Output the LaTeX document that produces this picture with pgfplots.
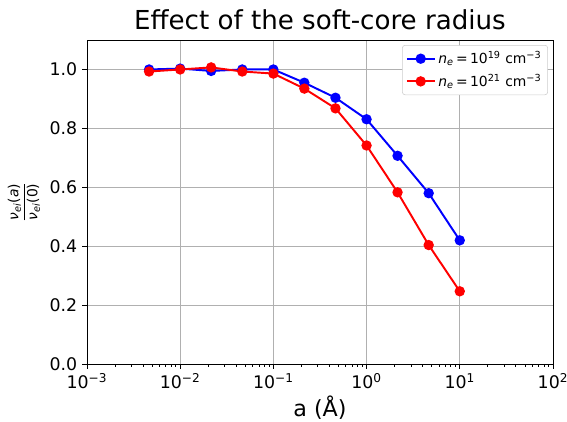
\documentclass[border=0pt]{standalone}
\usepackage{pgfplots}
\pgfplotsset{compat=1.18}
\usepackage{fontspec}
\setmainfont{DejaVu Sans}

\definecolor{gridgray}{HTML}{B0B0B0}
\definecolor{legframe}{HTML}{CCCCCC}
\newcommand\nuei{\textit{ν}\textsubscript{\textit{ei}}}
\newcommand\nelab[1]{\textit{n}\textsubscript{\textit{e}}\,=\,10\textsuperscript{#1} cm\textsuperscript{−3}}

\begin{document}
\begin{tikzpicture}
  \begin{axis}[%
    scale only axis,
    width=335.5pt, height=233.3pt,
    at={(0,0)}, anchor=south west,
    axis line style={line width=0.6pt},
    % x-axis
    xmode=log,
    xmin=1e-3, xmax=1e2,
    xtick={1e-3,1e-2,1e-1,1,1e1,1e2},
    xticklabels={10\textsuperscript{−3},10\textsuperscript{−2},10\textsuperscript{−1},10\textsuperscript{0},10\textsuperscript{1},10\textsuperscript{2}},
    minor xtick={2e-3,3e-3,4e-3,5e-3,6e-3,7e-3,8e-3,9e-3,
                 2e-2,3e-2,4e-2,5e-2,6e-2,7e-2,8e-2,9e-2,
                 0.2,0.3,0.4,0.5,0.6,0.7,0.8,0.9,
                 2,3,4,5,6,7,8,9,
                 20,30,40,50,60,70,80,90},
    xlabel={a (Å)},
    xlabel style={font=\fontsize{16}{18}\selectfont, yshift=2pt},
    % y-axis
    ymin=0, ymax=1.1,
    ytick={0,0.2,0.4,0.6,0.8,1.0},
    yticklabel style={/pgf/number format/.cd, fixed, fixed zerofill, precision=1, assume math mode=true},
    ylabel={$\displaystyle\frac{\mbox{\fontsize{10}{12}\selectfont\nuei(\textit{a})}}{\mbox{\fontsize{10}{12}\selectfont\nuei(0)}}$},
    % ticks and grid
    tick align=outside,
    xtick pos=bottom, ytick pos=left,
    major tick length=3.5pt, minor tick length=2pt,
    every tick/.style={black, line width=0.6pt},
    tick label style={font=\fontsize{12.5}{14}\selectfont},
    xmajorgrids=true, ymajorgrids=true, xminorgrids=false,
    major grid style={gridgray, line width=0.6pt},
    % title
    title={Effect of the soft-core radius},
    title style={font=\fontsize{18.8}{21}\selectfont, yshift=-2pt},
    % legend
    legend cell align=left,
    legend style={at={(1,1)}, anchor=north east, xshift=-3.6pt, yshift=-3.6pt,
      draw=legframe, rounded corners=2pt, font=\fontsize{10}{12}\selectfont,
      inner sep=2.5pt, row sep=2pt},
    legend image code/.code={%
      \draw[mark repeat=2, mark phase=2] plot coordinates {(0pt,0pt) (10pt,0pt) (20pt,0pt)};},
    ]

    \tikzstyle{plot_e19}=[color=blue, mark=*, mark size=3pt, line width=1.4pt, mark options={solid}]
    \tikzstyle{plot_e21}=[color=red, mark=*, mark size=3pt, line width=1.4pt, mark options={solid}]

    \addplot [style=plot_e19] coordinates {
      (0.00464, 1.000)
      (0.01, 1.003)
      (0.0215, 0.995)
      (0.0464, 1.000)
      (0.1, 1.000)
      (0.215, 0.955)
      (0.464, 0.904)
      (1, 0.831)
      (2.15, 0.707)
      (4.64, 0.580)
      (10, 0.420)
    };
    \addlegendentry{\nelab{19}}

    \addplot [style=plot_e21] coordinates {
      (0.00464, 0.993)
      (0.01, 1.000)
      (0.0215, 1.007)
      (0.0464, 0.993)
      (0.1, 0.986)
      (0.215, 0.935)
      (0.464, 0.868)
      (1, 0.742)
      (2.15, 0.583)
      (4.64, 0.404)
      (10, 0.247)
    };
    \addlegendentry{\nelab{21}}
  \end{axis}
  \pgfresetboundingbox
  \path (-62.6pt,-41pt) rectangle (345.6pt,262.1pt);
\end{tikzpicture}
\end{document}
